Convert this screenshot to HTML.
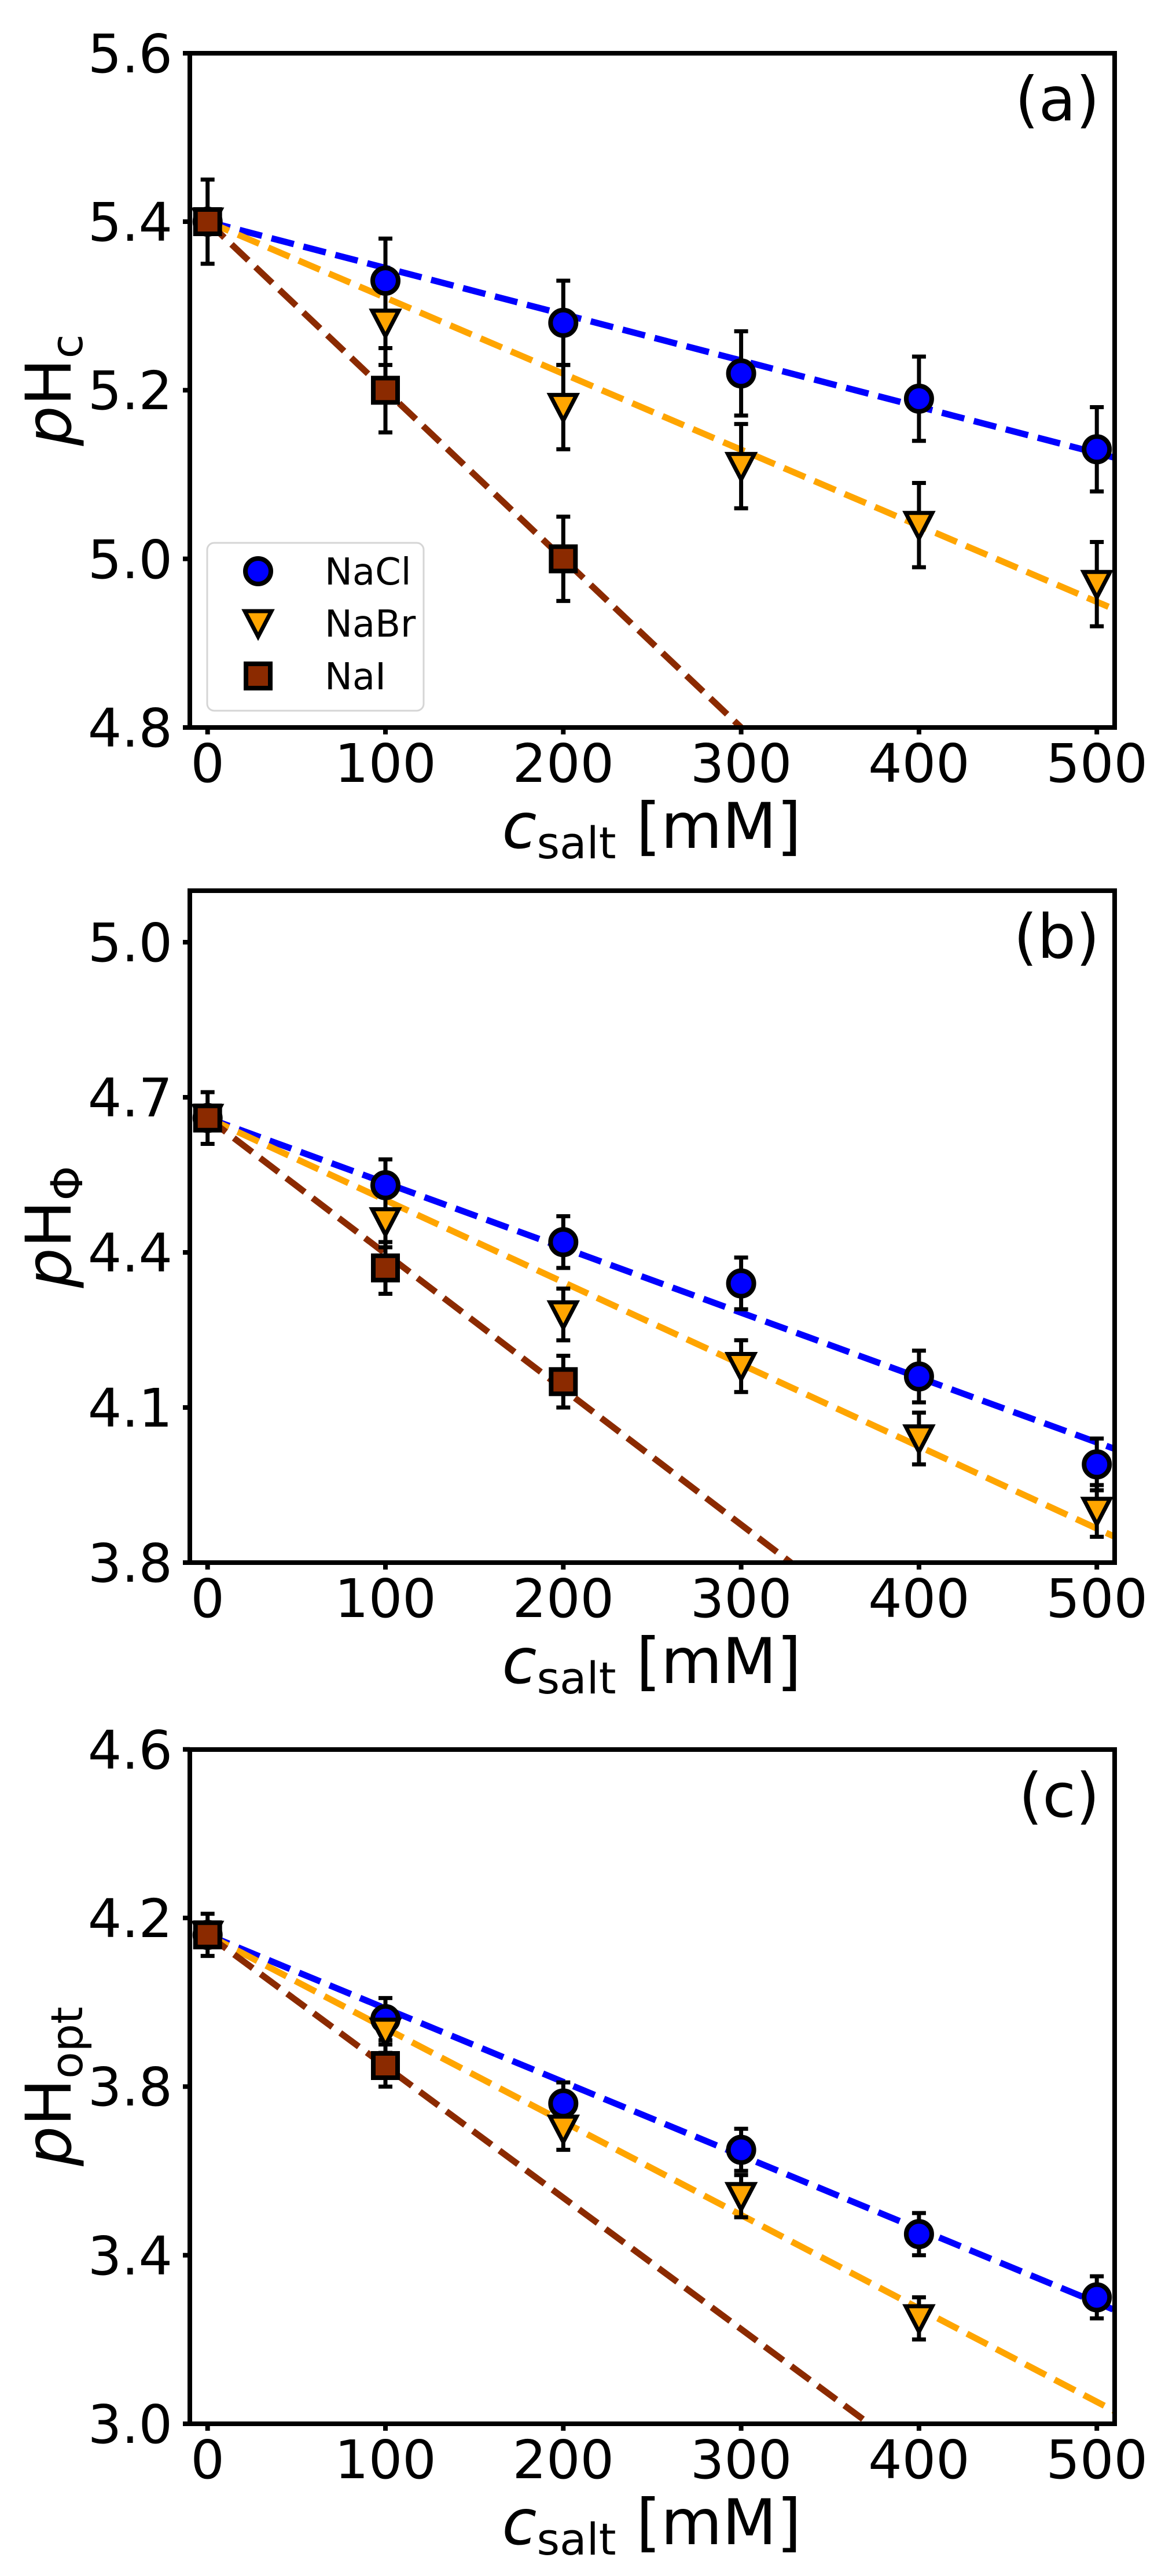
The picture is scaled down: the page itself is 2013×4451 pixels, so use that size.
<!DOCTYPE html>
<html><head><meta charset="utf-8"><style>
html,body{margin:0;padding:0;background:#fff;}
svg{display:block;}
text{font-family:"DejaVu Sans","Liberation Sans",sans-serif;fill:#000;}
</style></head><body>
<svg width="2013" height="4451" viewBox="0 0 2013 4451" xmlns="http://www.w3.org/2000/svg">
<defs>
<clipPath id="ca"><rect x="328" y="92" width="1598" height="1165"/></clipPath>
<clipPath id="cb"><rect x="328" y="1539" width="1598" height="1161"/></clipPath>
<clipPath id="cc"><rect x="328" y="3023" width="1598" height="1165"/></clipPath>
<g id="circ"><circle cx="0" cy="0" r="22" fill="#0000ff" stroke="#000" stroke-width="8"/></g>
<g id="tri"><polygon points="-23,-21 23,-21 0,23" fill="#ffa500" stroke="#000" stroke-width="7" stroke-linejoin="miter"/></g>
<g id="sq"><rect x="-21" y="-21" width="42" height="42" fill="#8b2a00" stroke="#000" stroke-width="8"/></g>
</defs>

<!-- ================= PANEL A ================= -->
<g clip-path="url(#ca)" fill="none" stroke-width="11" stroke-dasharray="40,17">
<line x1="358.7" y1="383" x2="1926" y2="790.8" stroke="#0000ff"/>
<line x1="358.7" y1="383" x2="1926" y2="1053" stroke="#ffa500"/>
<line x1="358.7" y1="383" x2="1280.6" y2="1257" stroke="#8b2a00"/>
</g>
<g stroke="#000" stroke-width="7">
<path d="M666 412.2V557.8M654 412.2H678M654 557.8H678"/>
<path d="M973.3 485V630.6M961.3 485H985.3M961.3 630.6H985.3"/>
<path d="M1280.6 572.4V718M1268.6 572.4H1292.6M1268.6 718H1292.6"/>
<path d="M1587.9 616.1V761.7M1575.9 616.1H1599.9M1575.9 761.7H1599.9"/>
<path d="M1895.2 703.5V849.1M1883.2 703.5H1907.2M1883.2 849.1H1907.2"/>
<path d="M666 485V630.6M654 485H678M654 630.6H678"/>
<path d="M973.3 630.6V776.2M961.3 630.6H985.3M961.3 776.2H985.3"/>
<path d="M1280.6 732.6V878.2M1268.6 732.6H1292.6M1268.6 878.2H1292.6"/>
<path d="M1587.9 834.5V980.1M1575.9 834.5H1599.9M1575.9 980.1H1599.9"/>
<path d="M1895.2 936.5V1082.1M1883.2 936.5H1907.2M1883.2 1082.1H1907.2"/>
<path d="M358.7 310.2V455.8M346.7 310.2H370.7M346.7 455.8H370.7"/>
<path d="M666 601.5V747.1M654 601.5H678M654 747.1H678"/>
<path d="M973.3 892.8V1038.4M961.3 892.8H985.3M961.3 1038.4H985.3"/>
</g>
<use href="#circ" x="358.7" y="383"/><use href="#circ" x="666" y="485"/><use href="#circ" x="973.3" y="557.8"/><use href="#circ" x="1280.6" y="645.2"/><use href="#circ" x="1587.9" y="688.9"/><use href="#circ" x="1895.2" y="776.3"/>
<use href="#tri" x="358.7" y="383"/><use href="#tri" x="666" y="557.8"/><use href="#tri" x="973.3" y="703.4"/><use href="#tri" x="1280.6" y="805.4"/><use href="#tri" x="1587.9" y="907.3"/><use href="#tri" x="1895.2" y="1009.3"/>
<use href="#sq" x="358.7" y="383"/><use href="#sq" x="666" y="674.3"/><use href="#sq" x="973.3" y="965.6"/>
<rect x="358" y="938" width="374" height="290" rx="12" fill="#fff" fill-opacity="0.8" stroke="#d5d5d5" stroke-width="3"/>
<use href="#circ" x="446" y="987"/><use href="#tri" x="446" y="1077"/><use href="#sq" x="446" y="1168"/>
<text x="561" y="1010" font-size="64">NaCl</text>
<text x="561" y="1100" font-size="64">NaBr</text>
<text x="561" y="1191" font-size="64">NaI</text>
<rect x="328" y="92" width="1598" height="1165" fill="none" stroke="#000" stroke-width="8"/>
<g stroke="#000" stroke-width="8">
<path d="M316 92H328M316 383H328M316 674.3H328M316 965.6H328M316 1257H328"/>
<path d="M358.7 1257V1269M666 1257V1269M973.3 1257V1269M1280.6 1257V1269M1587.9 1257V1269M1895.2 1257V1269"/>
</g>
<g font-size="92" text-anchor="end">
<text x="298" y="125">5.6</text><text x="298" y="416">5.4</text><text x="298" y="707">5.2</text><text x="298" y="999">5.0</text><text x="298" y="1290">4.8</text>
</g>
<g font-size="92" text-anchor="middle">
<text x="358.7" y="1351">0</text><text x="666" y="1351">100</text><text x="973.3" y="1351">200</text><text x="1280.6" y="1351">300</text><text x="1587.9" y="1351">400</text><text x="1895.2" y="1351">500</text>
</g>
<text x="1126" y="1465" font-size="109" text-anchor="middle"><tspan font-style="italic">c</tspan><tspan font-size="76" dy="18">salt</tspan><tspan dy="-18"> [mM]</tspan></text>
<text transform="translate(122,674) rotate(-90)" font-size="109" text-anchor="middle"><tspan font-style="italic">p</tspan>H<tspan font-size="76" dy="20">c</tspan></text>
<text x="1900" y="208" font-size="105" text-anchor="end">(a)</text>

<!-- ================= PANEL B ================= -->
<g clip-path="url(#cb)" fill="none" stroke-width="11" stroke-dasharray="40,17">
<line x1="358.7" y1="1931.8" x2="1926" y2="2503.5" stroke="#0000ff"/>
<line x1="358.7" y1="1931.8" x2="1926" y2="2655.3" stroke="#ffa500"/>
<line x1="358.7" y1="1931.8" x2="1366.6" y2="2700" stroke="#8b2a00"/>
</g>
<g stroke="#000" stroke-width="7">
<path d="M666 2003.2V2092.6M654 2003.2H678M654 2092.6H678"/>
<path d="M973.3 2101.5V2190.9M961.3 2101.5H985.3M961.3 2190.9H985.3"/>
<path d="M1280.6 2172.9V2262.3M1268.6 2172.9H1292.6M1268.6 2262.3H1292.6"/>
<path d="M1587.9 2333.7V2423.1M1575.9 2333.7H1599.9M1575.9 2423.1H1599.9"/>
<path d="M1895.2 2485.6V2575M1883.2 2485.6H1907.2M1883.2 2575H1907.2"/>
<path d="M666 2065.7V2155.1M654 2065.7H678M654 2155.1H678"/>
<path d="M973.3 2226.5V2315.9M961.3 2226.5H985.3M961.3 2315.9H985.3"/>
<path d="M1280.6 2315.8V2405.2M1268.6 2315.8H1292.6M1268.6 2405.2H1292.6"/>
<path d="M1587.9 2440.9V2530.3M1575.9 2440.9H1599.9M1575.9 2530.3H1599.9"/>
<path d="M1895.2 2566V2655.4M1883.2 2566H1907.2M1883.2 2655.4H1907.2"/>
<path d="M358.7 1887.1V1976.5M346.7 1887.1H370.7M346.7 1976.5H370.7"/>
<path d="M666 2146.1V2235.5M654 2146.1H678M654 2235.5H678"/>
<path d="M973.3 2342.6V2432M961.3 2342.6H985.3M961.3 2432H985.3"/>
</g>
<use href="#circ" x="358.7" y="1931.8"/><use href="#circ" x="666" y="2047.9"/><use href="#circ" x="973.3" y="2146.2"/><use href="#circ" x="1280.6" y="2217.6"/><use href="#circ" x="1587.9" y="2378.4"/><use href="#circ" x="1895.2" y="2530.3"/>
<use href="#tri" x="358.7" y="1931.8"/><use href="#tri" x="666" y="2110.4"/><use href="#tri" x="973.3" y="2271.2"/><use href="#tri" x="1280.6" y="2360.5"/><use href="#tri" x="1587.9" y="2485.6"/><use href="#tri" x="1895.2" y="2610.7"/>
<use href="#sq" x="358.7" y="1931.8"/><use href="#sq" x="666" y="2190.8"/><use href="#sq" x="973.3" y="2387.3"/>
<rect x="328" y="1539" width="1598" height="1161" fill="none" stroke="#000" stroke-width="8"/>
<g stroke="#000" stroke-width="8">
<path d="M316 1628H328M316 1896H328M316 2164H328M316 2432H328M316 2700H328"/>
<path d="M358.7 2700V2712M666 2700V2712M973.3 2700V2712M1280.6 2700V2712M1587.9 2700V2712M1895.2 2700V2712"/>
</g>
<g font-size="92" text-anchor="end">
<text x="298" y="1661">5.0</text><text x="298" y="1929">4.7</text><text x="298" y="2197">4.4</text><text x="298" y="2465">4.1</text><text x="298" y="2733">3.8</text>
</g>
<g font-size="92" text-anchor="middle">
<text x="358.7" y="2794">0</text><text x="666" y="2794">100</text><text x="973.3" y="2794">200</text><text x="1280.6" y="2794">300</text><text x="1587.9" y="2794">400</text><text x="1895.2" y="2794">500</text>
</g>
<text x="1126" y="2908" font-size="109" text-anchor="middle"><tspan font-style="italic">c</tspan><tspan font-size="76" dy="18">salt</tspan><tspan dy="-18"> [mM]</tspan></text>
<text transform="translate(122,2120) rotate(-90)" font-size="109" text-anchor="middle"><tspan font-style="italic">p</tspan>H<tspan font-size="76" dy="20">Φ</tspan></text>
<text x="1900" y="1655" font-size="105" text-anchor="end">(b)</text>

<!-- ================= PANEL C ================= -->
<g clip-path="url(#cc)" fill="none" stroke-width="11" stroke-dasharray="40,17">
<line x1="358.7" y1="3343.2" x2="1926" y2="3991.4" stroke="#0000ff"/>
<line x1="358.7" y1="3343.2" x2="1926" y2="4166.2" stroke="#ffa500"/>
<line x1="358.7" y1="3343.2" x2="1501.9" y2="4188" stroke="#8b2a00"/>
</g>
<g stroke="#000" stroke-width="7">
<path d="M666 3452.4V3525.2M654 3452.4H678M654 3525.2H678"/>
<path d="M973.3 3598.1V3670.9M961.3 3598.1H985.3M961.3 3670.9H985.3"/>
<path d="M1280.6 3678.2V3751M1268.6 3678.2H1292.6M1268.6 3751H1292.6"/>
<path d="M1587.9 3823.9V3896.7M1575.9 3823.9H1599.9M1575.9 3896.7H1599.9"/>
<path d="M1895.2 3933.1V4005.9M1883.2 3933.1H1907.2M1883.2 4005.9H1907.2"/>
<path d="M666 3474.3V3547.1M654 3474.3H678M654 3547.1H678"/>
<path d="M973.3 3641.8V3714.6M961.3 3641.8H985.3M961.3 3714.6H985.3"/>
<path d="M1280.6 3758.3V3831.1M1268.6 3758.3H1292.6M1268.6 3831.1H1292.6"/>
<path d="M1587.9 3969.5V4042.3M1575.9 3969.5H1599.9M1575.9 4042.3H1599.9"/>
<path d="M358.7 3306.8V3379.6M346.7 3306.8H370.7M346.7 3379.6H370.7"/>
<path d="M666 3532.6V3605.4M654 3532.6H678M654 3605.4H678"/>
</g>
<use href="#circ" x="358.7" y="3343.2"/><use href="#circ" x="666" y="3488.8"/><use href="#circ" x="973.3" y="3634.5"/><use href="#circ" x="1280.6" y="3714.6"/><use href="#circ" x="1587.9" y="3860.3"/><use href="#circ" x="1895.2" y="3969.5"/>
<use href="#tri" x="358.7" y="3343.2"/><use href="#tri" x="666" y="3510.7"/><use href="#tri" x="973.3" y="3678.2"/><use href="#tri" x="1280.6" y="3794.7"/><use href="#tri" x="1587.9" y="4005.9"/>
<use href="#sq" x="358.7" y="3343.2"/><use href="#sq" x="666" y="3569"/>
<rect x="328" y="3023" width="1598" height="1165" fill="none" stroke="#000" stroke-width="8"/>
<g stroke="#000" stroke-width="8">
<path d="M316 3022.7H328M316 3314H328M316 3605.4H328M316 3896.7H328M316 4188H328"/>
<path d="M358.7 4188V4200M666 4188V4200M973.3 4188V4200M1280.6 4188V4200M1587.9 4188V4200M1895.2 4188V4200"/>
</g>
<g font-size="92" text-anchor="end">
<text x="298" y="3056">4.6</text><text x="298" y="3347">4.2</text><text x="298" y="3638">3.8</text><text x="298" y="3930">3.4</text><text x="298" y="4221">3.0</text>
</g>
<g font-size="92" text-anchor="middle">
<text x="358.7" y="4282">0</text><text x="666" y="4282">100</text><text x="973.3" y="4282">200</text><text x="1280.6" y="4282">300</text><text x="1587.9" y="4282">400</text><text x="1895.2" y="4282">500</text>
</g>
<text x="1126" y="4396" font-size="109" text-anchor="middle"><tspan font-style="italic">c</tspan><tspan font-size="76" dy="18">salt</tspan><tspan dy="-18"> [mM]</tspan></text>
<text transform="translate(122,3605) rotate(-90)" font-size="109" text-anchor="middle"><tspan font-style="italic">p</tspan>H<tspan font-size="76" dy="20">opt</tspan></text>
<text x="1900" y="3139" font-size="105" text-anchor="end">(c)</text>
</svg>
</body></html>
